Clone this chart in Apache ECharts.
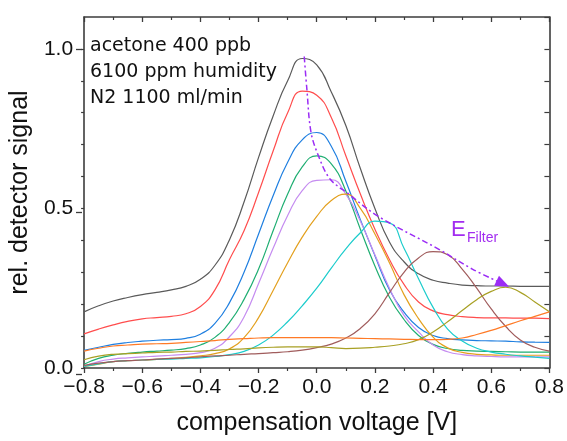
<!DOCTYPE html>
<html>
<head>
<meta charset="utf-8">
<script src="https://cdn.jsdelivr.net/npm/echarts@6/dist/echarts.min.js"></script>
<style>
html,body{margin:0;padding:0;background:#fff;}
#chart{width:567px;height:441px;}
</style>
</head>
<body>
<div id="chart"></div>
<script>
// compensation voltage [V]
const xs = [-0.8,-0.75,-0.7,-0.65,-0.6,-0.55,-0.5,-0.45,-0.4,-0.35,-0.3,-0.25,-0.2,-0.15,-0.1,-0.05,0,0.05,0.1,0.15,0.2,0.25,0.3,0.35,0.4,0.45,0.5,0.55,0.6,0.65,0.7,0.75,0.8];

const black  = [0.176,0.195,0.21,0.221,0.23,0.237,0.245,0.256,0.278,0.322,0.402,0.52,0.66,0.79,0.9,0.97,0.95,0.865,0.76,0.625,0.5,0.395,0.333,0.295,0.275,0.266,0.26,0.258,0.257,0.257,0.256,0.256,0.256];
const red    = [0.107,0.122,0.135,0.146,0.154,0.158,0.162,0.17,0.193,0.245,0.34,0.43,0.55,0.68,0.8,0.868,0.855,0.785,0.665,0.545,0.435,0.34,0.262,0.207,0.179,0.167,0.161,0.158,0.157,0.157,0.156,0.156,0.155];
const blue   = [0.055,0.065,0.074,0.08,0.084,0.087,0.089,0.093,0.106,0.14,0.205,0.3,0.42,0.54,0.645,0.715,0.738,0.695,0.585,0.465,0.352,0.245,0.175,0.127,0.102,0.092,0.088,0.086,0.085,0.084,0.082,0.081,0.08];
const green  = [0.012,0.03,0.04,0.046,0.05,0.053,0.056,0.061,0.072,0.096,0.143,0.215,0.31,0.43,0.545,0.63,0.665,0.64,0.555,0.435,0.32,0.222,0.152,0.102,0.074,0.061,0.055,0.053,0.052,0.051,0.05,0.05,0.05];
const violet = [0.005,0.02,0.028,0.032,0.035,0.037,0.04,0.043,0.048,0.062,0.098,0.16,0.265,0.375,0.478,0.556,0.588,0.59,0.545,0.46,0.355,0.25,0.165,0.113,0.072,0.051,0.042,0.038,0.036,0.035,0.035,0.035,0.035];
const gold   = [0.005,0.012,0.02,0.023,0.025,0.027,0.03,0.033,0.038,0.045,0.06,0.095,0.158,0.243,0.33,0.41,0.475,0.525,0.545,0.5,0.42,0.33,0.23,0.155,0.097,0.063,0.049,0.043,0.041,0.04,0.04,0.04,0.04];
const cyan   = [0.005,0.013,0.02,0.023,0.025,0.027,0.028,0.03,0.032,0.036,0.042,0.052,0.072,0.103,0.145,0.195,0.25,0.313,0.373,0.424,0.46,0.455,0.375,0.28,0.19,0.122,0.085,0.062,0.05,0.043,0.038,0.034,0.03];
const brown  = [0.008,0.015,0.02,0.023,0.025,0.028,0.03,0.032,0.035,0.038,0.04,0.043,0.045,0.048,0.051,0.056,0.064,0.075,0.094,0.124,0.17,0.236,0.3,0.345,0.365,0.355,0.31,0.25,0.185,0.13,0.088,0.065,0.053];
const olive  = [0.026,0.037,0.043,0.045,0.047,0.049,0.05,0.052,0.053,0.055,0.058,0.06,0.063,0.065,0.066,0.066,0.066,0.064,0.061,0.062,0.065,0.069,0.076,0.089,0.113,0.145,0.18,0.214,0.24,0.253,0.237,0.207,0.176];
const orange = [0.053,0.062,0.069,0.072,0.075,0.076,0.077,0.08,0.083,0.086,0.09,0.092,0.094,0.095,0.095,0.095,0.095,0.095,0.094,0.093,0.092,0.091,0.09,0.089,0.089,0.09,0.094,0.105,0.118,0.133,0.148,0.162,0.176];

// E_Filter trend through the peak maxima
const filterX = [-0.043,-0.034,-0.02,0.005,0.045,0.11,0.212,0.42,0.535,0.64];
const filterY = [0.976,0.874,0.74,0.667,0.593,0.545,0.475,0.372,0.31,0.264];

const xTickStep = 0.2;
const yTickStep = 0.1;

const curves = [
  {name:'black', data:black, color:'#5a5a5a'},
  {name:'red', data:red, color:'#ff4d4d'},
  {name:'blue', data:blue, color:'#1f7fe0'},
  {name:'green', data:green, color:'#1fae72'},
  {name:'violet', data:violet, color:'#c58cf0'},
  {name:'gold', data:gold, color:'#e3a01e'},
  {name:'cyan', data:cyan, color:'#1ccccc'},
  {name:'brown', data:brown, color:'#a05c5c'},
  {name:'olive', data:olive, color:'#a8a024'},
  {name:'orange', data:orange, color:'#ff7a26'}
];

const axisColor = '#3c3c3c';
const textColor = '#111';
const FONT = 'Liberation Sans, Arial, sans-serif';

function fmt(v){
  const s = Math.abs(v).toFixed(1);
  return (v < -1e-9 ? '\u2212' : '') + s;
}
function fmtY(v){
  if (Math.abs(v*2 - Math.round(v*2)) < 1e-6) return fmt(v);
  return '';
}

const lineAx = {show:true, onZero:false, lineStyle:{color:axisColor, width:1.6}};

const series = curves.map(c => ({
  type:'line', name:c.name, xAxisIndex:0, yAxisIndex:0,
  data: xs.map((x,i)=>[x, c.data[i]]),
  showSymbol:false, symbol:'none', smooth:0.5,
  lineStyle:{color:c.color, width:1.2}, itemStyle:{color:c.color},
  silent:true
}));

const nF = filterX.length;
const ang = Math.atan2((filterY[nF-1]-filterY[nF-2])*324.5, (filterX[nF-1]-filterX[nF-2])*293.1) * 180/Math.PI;
series.push({
  type:'line', name:'E_Filter', xAxisIndex:0, yAxisIndex:0,
  data: filterX.map((x,i)=> i===nF-1 ? {value:[x, filterY[i]], symbol:'triangle', symbolSize:[11,14], symbolRotate: -90 + ang} : {value:[x, filterY[i]], symbol:'none'}),
  symbol:'none', smooth:0.35,
  lineStyle:{color:'#9b2cf5', width:1.5, type:[6,3,2,3]},
  itemStyle:{color:'#9b2cf5'},
  z:5, silent:true
});

const option = {
  animation:false,
  backgroundColor:'#fff',
  grid:[
    {left:82, right:16, top:17, bottom:67},
    {left:82, right:16, top:49.5, bottom:67}
  ],
  xAxis:[
    {type:'value', gridIndex:0, position:'bottom', min:-0.8, max:0.8, interval:xTickStep,
     axisLine:lineAx,
     axisTick:{show:true, inside:false, length:5, lineStyle:{color:axisColor, width:1.3}},
     minorTick:{show:true, splitNumber:2, length:3, lineStyle:{color:axisColor, width:1.2}},
     splitLine:{show:false}, minorSplitLine:{show:false},
     axisLabel:{formatter:fmt, fontFamily:FONT, fontSize:21, color:textColor, margin:9},
     name:'compensation voltage [V]', nameLocation:'middle', nameGap:43,
     nameTextStyle:{fontFamily:FONT, fontSize:25, color:textColor}},
    {type:'value', gridIndex:0, position:'top', min:-0.8, max:0.8, interval:xTickStep,
     axisLine:lineAx,
     axisTick:{show:true, inside:true, length:5, lineStyle:{color:axisColor, width:1.3}},
     minorTick:{show:true, splitNumber:2, length:3, lineStyle:{color:axisColor, width:1.2}},
     splitLine:{show:false}, minorSplitLine:{show:false},
     axisLabel:{show:false}},
    {type:'value', gridIndex:1, min:-0.8, max:0.8, show:false}
  ],
  yAxis:[
    {type:'value', gridIndex:0, position:'left', min:0, max:1.1, interval:yTickStep,
     axisLine:lineAx,
     axisTick:{show:true, inside:false, length:3, lineStyle:{color:axisColor, width:1.2}},
     splitLine:{show:false},
     axisLabel:{formatter:fmtY, fontFamily:FONT, fontSize:21, color:textColor, margin:11, showMaxLabel:false},
     name:'rel. detector signal', nameLocation:'middle', nameGap:47, nameRotate:90,
     nameTextStyle:{fontFamily:FONT, fontSize:25, color:textColor}},
    {type:'value', gridIndex:0, position:'right', min:0, max:1.1, interval:yTickStep,
     axisLine:lineAx,
     axisTick:{show:true, inside:true, length:5, lineStyle:{color:axisColor, width:1.2}},
     splitLine:{show:false}, axisLabel:{show:false}},
    {type:'value', gridIndex:1, position:'left', min:0, max:1.0, interval:0.5,
     axisLine:{show:false, onZero:false},
     axisTick:{show:true, inside:false, length:6, lineStyle:{color:axisColor, width:1.3}},
     splitLine:{show:false}, axisLabel:{show:false}}
  ],
  graphic:[
    {type:'text', x:90, y:33, silent:true,
     style:{text:'acetone 400 ppb\n6100 ppm humidity\nN2 1100 ml/min', fontFamily:'DejaVu Sans', fontSize:19, lineHeight:26, fill:textColor}},
    {type:'text', x:451, y:230, silent:true,
     style:{text:'E', fontFamily:FONT, fontSize:22, fill:'#a22cf0', verticalAlign:'middle', align:'left'}},
    {type:'text', x:467, y:238, silent:true,
     style:{text:'Filter', fontFamily:FONT, fontSize:14, fill:'#a22cf0', verticalAlign:'middle', align:'left'}}
  ],
  series: series
};

const chart = echarts.init(document.getElementById('chart'), null, {renderer:'canvas'});
chart.setOption(option);
</script>
</body>
</html>
